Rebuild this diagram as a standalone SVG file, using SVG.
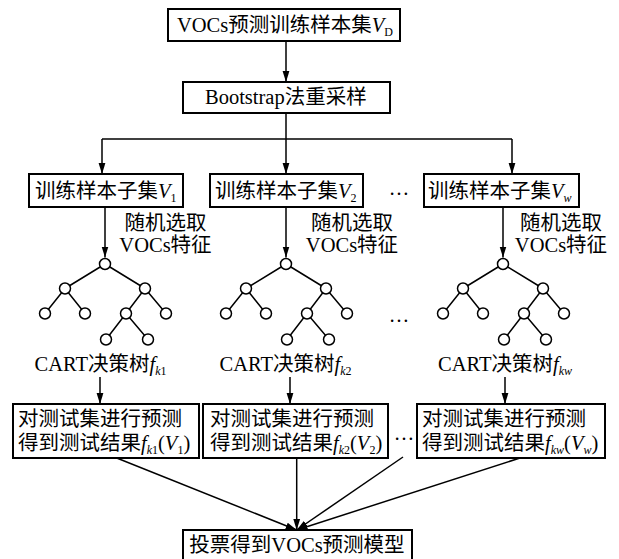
<svg xmlns="http://www.w3.org/2000/svg" xmlns:xlink="http://www.w3.org/1999/xlink" width="619" height="559" viewBox="0 0 619 559">
<style>
.t{font-family:"Liberation Serif","Noto Sans CJK SC",serif;font-size:20.5px;fill:#000}
.m{text-anchor:middle}
.i{font-style:italic}
.s{font-size:12px}
.box{fill:#fff;stroke:#000;stroke-width:2}
.ln{fill:none;stroke:#000;stroke-width:1.5}
.ar{fill:none;stroke:#000;stroke-width:1.5;marker-end:url(#ah)}
.nd{fill:#fff;stroke:#000;stroke-width:1.5}
</style>
<defs>
<marker id="ah" markerUnits="userSpaceOnUse" markerWidth="12" markerHeight="8" refX="11" refY="4" orient="auto">
<path d="M0,0.6 L11,4 L0,7.4 z" fill="#000"/>
</marker>
<g id="treeShape">
<path class="ln" d="M0,0 L-40,24.5 M0,0 L40,24.5 M-40,24.5 L-60,49.5 M-40,24.5 L-20,49.5 M40,24.5 L21,49.5 M40,24.5 L61,49.5 M21,49.5 L1,75.5 M21,49.5 L43,75.5"/>
<circle class="nd" cx="0" cy="0" r="5.5"/>
<circle class="nd" cx="-40" cy="24.5" r="5.5"/>
<circle class="nd" cx="40" cy="24.5" r="5.5"/>
<circle class="nd" cx="-60" cy="49.5" r="5.5"/>
<circle class="nd" cx="-20" cy="49.5" r="5.5"/>
<circle class="nd" cx="21" cy="49.5" r="5.5"/>
<circle class="nd" cx="61" cy="49.5" r="5.5"/>
<circle class="nd" cx="1" cy="75.5" r="5.5"/>
<circle class="nd" cx="43" cy="75.5" r="5.5"/>
</g>
</defs>
<rect width="619" height="559" fill="#fff"/>

<g id="connectors">
<path class="ar" d="M286,41 V82"/>
<path class="ar" d="M286,113 V174"/>
<path class="ln" d="M102,139 H512"/>
<path class="ar" d="M102,139 V174"/>
<path class="ar" d="M512,139 V174"/>
<path class="ar" d="M105,207 V257.5"/>
<path class="ar" d="M286,207 V257.5"/>
<path class="ar" d="M503,207 V257.5"/>
<path class="ar" d="M100,377 V404"/>
<path class="ar" d="M290,377 V404"/>
<path class="ar" d="M505,377 V404"/>
<path class="ar" d="M116.7,458 L296.7,530"/>
<path class="ar" d="M296.7,458 V530"/>
<path class="ar" d="M403,457 L296.7,530"/>
<path class="ar" d="M520,458 L296.7,530"/>
</g>

<g id="vd">
<rect class="box" x="168" y="9" width="232" height="32"/>
<text class="t" x="177" y="32">VOCs预测训练样本集<tspan class="i">V</tspan><tspan class="s" dy="4">D</tspan></text>
</g>
<g id="bootstrap">
<rect class="box" x="183" y="82" width="207" height="31"/>
<text class="t" x="205" y="104">Bootstrap法重采样</text>
</g>

<g id="v1">
<rect class="box" x="29" y="174" width="154" height="33"/>
<text class="t" x="35" y="198">训练样本子集<tspan class="i">V</tspan><tspan class="s" dy="4">1</tspan></text>
</g>
<g id="v2">
<rect class="box" x="210" y="174" width="153" height="33"/>
<text class="t" x="215" y="198">训练样本子集<tspan class="i">V</tspan><tspan class="s" dy="4">2</tspan></text>
</g>
<g id="vw">
<rect class="box" x="424" y="174" width="155" height="33"/>
<text class="t" x="428" y="198">训练样本子集<tspan class="i">V</tspan><tspan class="s i" dy="4">w</tspan></text>
</g>
<text class="t m" x="399" y="195">…</text>

<g id="label1">
<text class="t m" x="165.5" y="230">随机选取</text>
<text class="t m" x="165.5" y="252">VOCs特征</text>
</g>
<g id="label2">
<text class="t m" x="352" y="230">随机选取</text>
<text class="t m" x="352" y="252">VOCs特征</text>
</g>
<g id="labelw">
<text class="t m" x="561" y="230">随机选取</text>
<text class="t m" x="561" y="252">VOCs特征</text>
</g>

<g id="tree1"><use xlink:href="#treeShape" href="#treeShape" transform="translate(105,264)"/></g>
<g id="tree2"><use xlink:href="#treeShape" href="#treeShape" transform="translate(286,264)"/></g>
<g id="treew"><use xlink:href="#treeShape" href="#treeShape" transform="translate(503,264)"/></g>
<text class="t m" x="399" y="322">…</text>

<g id="cart1">
<text class="t m" x="100.5" y="371">CART决策树<tspan class="i">f</tspan><tspan class="s i" dy="4">k</tspan><tspan class="s">1</tspan></text>
</g>
<g id="cart2">
<text class="t m" x="285.5" y="371">CART决策树<tspan class="i">f</tspan><tspan class="s i" dy="4">k</tspan><tspan class="s">2</tspan></text>
</g>
<g id="cartw">
<text class="t m" x="505" y="371">CART决策树<tspan class="i">f</tspan><tspan class="s i" dy="4">kw</tspan></text>
</g>

<g id="pred1">
<rect class="box" x="13" y="404" width="186" height="54"/>
<text class="t" x="18" y="426">对测试集进行预测</text>
<text class="t" x="18" y="450">得到测试结果<tspan class="i">f</tspan><tspan class="s i" dy="4">k</tspan><tspan class="s">1</tspan><tspan dy="-4">(</tspan><tspan class="i">V</tspan><tspan class="s" dy="4">1</tspan><tspan dy="-4">)</tspan></text>
</g>
<g id="pred2">
<rect class="box" x="203" y="404" width="185" height="54"/>
<text class="t" x="210" y="426">对测试集进行预测</text>
<text class="t" x="210" y="450">得到测试结果<tspan class="i">f</tspan><tspan class="s i" dy="4">k</tspan><tspan class="s">2</tspan><tspan dy="-4">(</tspan><tspan class="i">V</tspan><tspan class="s" dy="4">2</tspan><tspan dy="-4">)</tspan></text>
</g>
<g id="predw">
<rect class="box" x="417" y="404" width="188" height="54"/>
<text class="t" x="422" y="426">对测试集进行预测</text>
<text class="t" x="422" y="450">得到测试结果<tspan class="i">f</tspan><tspan class="s i" dy="4">kw</tspan><tspan dy="-4">(</tspan><tspan class="i">V</tspan><tspan class="s i" dy="4">w</tspan><tspan dy="-4">)</tspan></text>
</g>
<text class="t m" x="404" y="440">…</text>

<g id="vote">
<rect class="box" x="183" y="530" width="229" height="40"/>
<text class="t m" x="297" y="552">投票得到VOCs预测模型</text>
</g>
</svg>
